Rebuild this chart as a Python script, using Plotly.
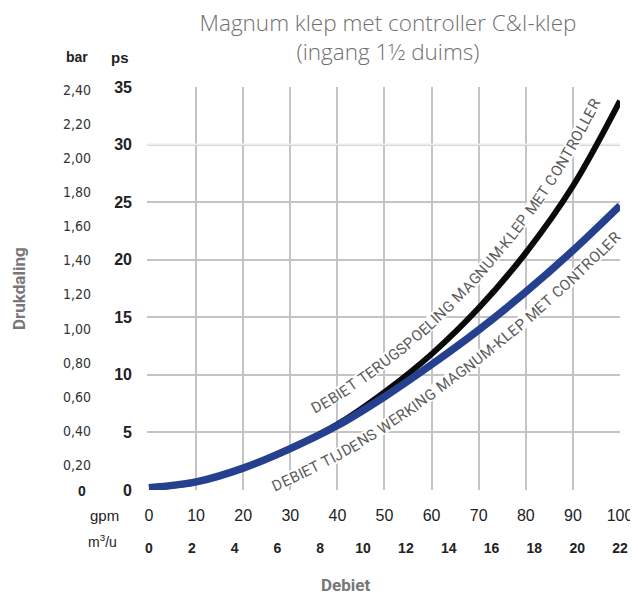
import numpy as np
import plotly.graph_objects as go

# ---------------- data ----------------
gpm = [0, 10, 20, 30, 40, 50, 60, 70, 80, 90, 100]
psi_terugspoeling = [0.2, 0.7, 1.9, 3.6, 5.7, 8.5, 11.8, 15.8, 20.6, 26.4, 33.8]
psi_werking = [0.2, 0.7, 1.9, 3.6, 5.6, 8.1, 10.9, 13.9, 17.2, 20.8, 24.7]

psi_tickvals = [0, 5, 10, 15, 20, 25, 30, 35]
bar_tickvals = [0.2, 0.4, 0.6, 0.8, 1.0, 1.2, 1.4, 1.6, 1.8, 2.0, 2.2, 2.4]
bar_ticktext = ["0,20", "0,40", "0,60", "0,80", "1,00", "1,20", "1,40",
                "1,60", "1,80", "2,00", "2,20", "2,40"]
gpm_tickvals = [0, 10, 20, 30, 40, 50, 60, 70, 80, 90, 100]
m3_tickvals = [0, 2, 4, 6, 8, 10, 12, 14, 16, 18, 20, 22]

label_terugspoeling = "DEBIET TERUGSPOELING MAGNUM-KLEP MET CONTROLLER"
label_werking = "DEBIET TIJDENS WERKING MAGNUM-KLEP MET CONTROLER"
title_text = "Magnum klep met controller C&I-klep<br>(ingang 1½ duims)"

# ---------------- layout constants (screen pixels) ----------------
OFF = 8                      # default page body margin
W, H = 638 - OFF, 595 - OFF  # figure size
ML, MR, MT, MB = 20, 18, 79, 20
PL, PR, PT, PB = 147, 620, 87, 490          # plot area in screen pixels
XR = [-0.42, 100]
YR = [0, 35]
BAR_R = [0.0534, 2.4177]
M3_R = [-0.0924, 22]

PW = W - ML - MR
PH = H - MT - MB


def paper_x(px):
    return (px - OFF - ML) / PW


def paper_y(py):
    return (H + OFF - MB - py) / PH


def to_px(g, p):
    return (PL + (g - XR[0]) / (XR[1] - XR[0]) * (PR - PL),
            PB - (p - YR[0]) / (YR[1] - YR[0]) * (PB - PT))


def to_data(x, y):
    return (XR[0] + (x - PL) / (PR - PL) * (XR[1] - XR[0]),
            YR[0] + (PB - y) / (PB - PT) * (YR[1] - YR[0]))


def catmull(pts, n=40):
    pts = np.asarray(pts, float)
    P = np.vstack([2 * pts[0] - pts[1], pts, 2 * pts[-1] - pts[-2]])
    out = []
    for i in range(1, len(P) - 2):
        p0, p1, p2, p3 = P[i - 1], P[i], P[i + 1], P[i + 2]
        for t in np.linspace(0, 1, n, endpoint=False):
            out.append(0.5 * ((2 * p1) + (-p0 + p2) * t
                              + (2 * p0 - 5 * p1 + 4 * p2 - p3) * t ** 2
                              + (-p0 + 3 * p1 - 3 * p2 + p3) * t ** 3))
    out.append(pts[-1])
    return np.array(out)


CHAR_EM = {"A": .652, "B": .623, "C": .651, "D": .656, "E": .568, "G": .681,
           "I": .272, "J": .553, "K": .627, "L": .538, "M": .874, "N": .696,
           "O": .688, "P": .631, "R": .615, "S": .595, "T": .596, "U": .633,
           "W": .885, "-": .276, " ": .248}

LABEL_FONT = "Roboto, sans-serif"
SPREAD = 1.04


def curved_label(text, xs, ys, g_start, g_end, d0, d1, side, fs, color):
    pts = [to_px(g, p) for g, p in zip(xs, ys)]
    dense = catmull(pts)
    t = np.gradient(dense, axis=0)
    t /= np.hypot(t[:, 0], t[:, 1])[:, None]
    nrm = np.stack([t[:, 1], -t[:, 0]], axis=1) * side
    dg = np.array([to_data(x, 0)[0] for x in dense[:, 0]])
    d = np.interp(dg, [g_start, g_end], [d0, d1])
    off = dense + d[:, None] * nrm
    seg = np.hypot(*np.diff(off, axis=0).T)
    s = np.concatenate([[0], np.cumsum(seg)])
    ot = np.gradient(off, axis=0)
    ang = np.degrees(np.arctan2(ot[:, 1], ot[:, 0]))
    i0 = int(np.searchsorted(dense[:, 0], to_px(g_start, 0)[0]))
    pos = s[i0]
    start = pos
    ann = []
    for ch in text:
        w = CHAR_EM.get(ch, 0.6) * fs * SPREAD
        c = pos + w / 2
        if ch != " ":
            x = np.interp(c, s, off[:, 0])
            y = np.interp(c, s, off[:, 1])
            a = float(np.interp(c, s, ang))
            gx, gy = to_data(x, y)
            ann.append(dict(x=gx, y=gy, xref="x", yref="y", text=ch,
                            showarrow=False, textangle=a, xanchor="center",
                            yanchor="middle", borderpad=0,
                            font=dict(family=LABEL_FONT, size=fs, color=color)))
        pos += w
    ss = np.linspace(start - 3, pos + 3, 80)
    bx = np.interp(ss, s, off[:, 0])
    by = np.interp(ss, s, off[:, 1])
    band = [to_data(x, y) for x, y in zip(bx, by)]
    return ann, [b[0] for b in band], [b[1] for b in band]


ann_t, band_tx, band_ty = curved_label(label_terugspoeling, gpm, psi_terugspoeling,
                                       37, 97, 25, 21, +1, 15, "#5c5c5c")
ann_w, band_wx, band_wy = curved_label(label_werking, gpm, psi_werking,
                                       24, 99, 28, 19, -1, 15, "#5c5c5c")

fig = go.Figure()
for bx, by in [(band_tx, band_ty), (band_wx, band_wy)]:
    fig.add_trace(go.Scatter(x=bx, y=by, mode="lines", hoverinfo="skip",
                             line=dict(color="white", width=14), showlegend=False))

fig.add_trace(go.Scatter(x=gpm, y=psi_terugspoeling, mode="lines",
                         name="Debiet terugspoeling",
                         line=dict(color="#0a0a0a", width=6, shape="spline", smoothing=1),
                         showlegend=False))
fig.add_trace(go.Scatter(x=gpm, y=psi_werking, mode="lines",
                         name="Debiet tijdens werking",
                         line=dict(color="#25408f", width=7.5, shape="spline", smoothing=1),
                         showlegend=False))
# empty traces so the overlaid axes get drawn
fig.add_trace(go.Scatter(x=[None], y=[None], xaxis="x2", yaxis="y", showlegend=False, hoverinfo="skip"))
fig.add_trace(go.Scatter(x=[None], y=[None], xaxis="x3", yaxis="y", showlegend=False, hoverinfo="skip"))
fig.add_trace(go.Scatter(x=[None], y=[None], xaxis="x", yaxis="y2", showlegend=False, hoverinfo="skip"))

ARIAL = "Liberation Sans, Arial, sans-serif"
NARROW = "Liberation Sans Narrow, DejaVu Sans Condensed, Liberation Sans, sans-serif"
GRID = "#c4c4c4"

xd0 = paper_x(PL)
yd0 = paper_y(PB)

fig.update_layout(
    width=W, height=H,
    margin=dict(l=ML, r=MR, t=MT, b=MB, autoexpand=False),
    paper_bgcolor="white", plot_bgcolor="white",
    showlegend=False,
    title=dict(text=title_text, x=(388 - OFF) / W, xanchor="center", y=1 - (31 - OFF) / H,
               yanchor="middle", yref="container", automargin=False,
               font=dict(family="Open Sans, sans-serif", size=22.5, color="#707070", weight=300)),
    xaxis=dict(domain=[xd0, 1], range=XR, tickvals=gpm_tickvals[1:], showticklabels=False,
               ticks="", showgrid=True, gridcolor=GRID, gridwidth=1.5, zeroline=False,
               showline=False, fixedrange=True, automargin=False),
    xaxis2=dict(overlaying="x", anchor="y", side="bottom", range=XR, tickvals=gpm_tickvals,
                ticktext=[str(v) for v in gpm_tickvals], showgrid=False, zeroline=False,
                showline=False, ticks="", ticklabelstandoff=14, automargin=False,
                tickfont=dict(family=ARIAL, size=16, color="#222")),
    xaxis3=dict(overlaying="x", anchor="free", position=paper_y(538), side="bottom",
                range=M3_R, tickvals=m3_tickvals, ticktext=[str(v) for v in m3_tickvals],
                showgrid=False, zeroline=False, showline=False, ticks="",
                ticklabelstandoff=0, automargin=False,
                tickfont=dict(family=ARIAL, size=14, color="#222", weight="bold")),
    yaxis=dict(domain=[yd0, 1], range=YR, tickvals=psi_tickvals,
               ticktext=[str(v) for v in psi_tickvals], showgrid=True, gridcolor=GRID,
               gridwidth=1.5, zeroline=False, showline=False, ticks="",
               ticklabelstandoff=14, automargin=False,
               tickfont=dict(family=ARIAL, size=16, color="#222", weight="bold")),
    yaxis2=dict(overlaying="y", anchor="free", position=paper_x(91), side="left",
                range=BAR_R, tickvals=bar_tickvals, ticktext=bar_ticktext,
                showgrid=False, zeroline=False, showline=False, ticks="",
                ticklabelstandoff=0, automargin=False,
                tickfont=dict(family=NARROW, size=14, color="#333")),
)

fig.add_shape(type="line", xref="x", yref="y", x0=XR[0], x1=XR[1], y0=30, y1=30,
              line=dict(color="#ececec", width=2), layer="between")

extra = [
    dict(text="<b>bar</b>", x=paper_x(77), y=paper_y(57), size=14, family=ARIAL, color="#222"),
    dict(text="<b>ps</b>", x=paper_x(120), y=paper_y(57), size=15, family=ARIAL, color="#222"),
    dict(text="<b>0</b>", x=paper_x(82), y=paper_y(491), size=14, family=ARIAL, color="#222"),
    dict(text="gpm", x=paper_x(104), y=paper_y(515), size=15, family=ARIAL, color="#222"),
    dict(text="m<sup>3</sup>/u", x=paper_x(102), y=paper_y(541), size=14, family=ARIAL, color="#222"),
    dict(text="<b>Debiet</b>", x=paper_x(345), y=paper_y(585), size=17, family="Roboto, sans-serif", color="#777"),
]
for e in extra:
    fig.add_annotation(x=e["x"], y=e["y"], xref="paper", yref="paper", text=e["text"],
                       showarrow=False, xanchor="center", yanchor="middle",
                       font=dict(family=e["family"], size=e["size"], color=e["color"]))
fig.add_annotation(x=paper_x(19), y=paper_y(289), xref="paper", yref="paper",
                   text="<b>Drukdaling</b>", textangle=-90, showarrow=False,
                   xanchor="center", yanchor="middle",
                   font=dict(family="Roboto, sans-serif", size=17, color="#777"))

for a in ann_t + ann_w:
    fig.add_annotation(**a)

fig.write_html("out.html")
